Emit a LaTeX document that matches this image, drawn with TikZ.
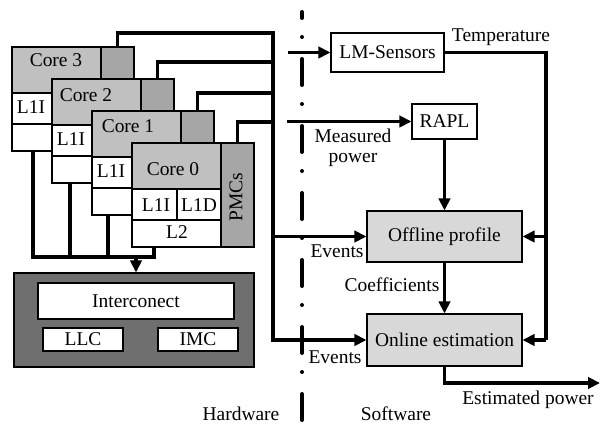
\documentclass[tikz,border=0pt]{standalone}
\usepackage{fontspec}
\setmainfont{Liberation Serif}
\usetikzlibrary{fit,arrows.meta}
\definecolor{coregray}{HTML}{C0C0C0}
\definecolor{pmcgray}{HTML}{A6A6A6}
\definecolor{uncgray}{HTML}{6F6F6F}
\definecolor{swgray}{HTML}{D8D8D8}
\begin{document}
\begin{tikzpicture}[x=0.75pt,y=-0.75pt, font=\fontsize{14.6}{15}\selectfont,
 box/.style={draw, line width=0.8pt, inner sep=0pt},
 cbox/.style={draw, line width=0.8pt, inner sep=0pt, outer sep=0pt},
 wire/.style={line width=2.4pt},
 arr/.style={-{Triangle[length=9pt,width=8.5pt]}},
 lbl/.style={inner sep=0pt, text height=0.66em, text depth=0pt},
 divider/.style={line width=3pt, line cap=round,
   dash pattern=on 19.5pt off 14.25pt on 0pt off 16.5pt, dash phase=15pt}]
\useasboundingbox (0,0) rectangle (601,428);

% hardware / software divider
\coordinate (dtop) at (302,12);
\coordinate (dbot) at (302,420);
\draw[divider] (dtop) -- (dbot);

% cores
\foreach \k/\x/\y in {3/12/47,2/52/79,1/92/111,0/132/143}{
  \node[cbox, fill=coregray, fit={(\x,\y) (\x+89,\y+46)}] (m\k) {};
  \node[cbox, fill=white, fit={(\x,\y+46) (\x+45,\y+77)}] (i\k) {};
  \node[cbox, fill=white, fit={(\x+45,\y+46) (\x+89,\y+77)}] (d\k) {};
  \node[cbox, fill=white, fit={(\x,\y+77) (\x+89,\y+104)}] (l\k) {};
  \node[cbox, fill=pmcgray, fit={(\x+89,\y) (\x+122,\y+104)}] (p\k) {};
}
\node[lbl] (c3) at (56,62) {Core 3};
\node[lbl] (c2) at (86,97) {Core 2};
\node[lbl] (c1) at (128,128) {Core 1};
\node[lbl] (c0) at (173,171) {Core 0};
\node[lbl] (li3) at (31,109) {L1I};
\node[lbl] (li2) at (71,141) {L1I};
\node[lbl] (li1) at (111,173) {L1I};
\node[lbl] (li0) at (156,207) {L1I};
\node[lbl] (ld0) at (199,207) {L1D};
\node[lbl] (l2t) at (177,234) {L2};
\node[lbl, rotate=90] (pmc) at (238,197) {PMCs};

% uncore
\node[box, fill=uncgray, minimum width=180pt, minimum height=70.5pt] (unc) at (134,320) {};
\node[box, fill=white, minimum width=147pt, minimum height=27pt] (ic) at (136,301) {Interconect};
\node[box, fill=white, minimum width=60pt, minimum height=17.25pt] (llc) at (83,339.5) {LLC};
\node[box, fill=white, minimum width=60pt, minimum height=17.25pt] (imc) at (198,339.5) {IMC};

% software blocks
\node[box, fill=white, minimum width=84.75pt, minimum height=29.25pt] (lm) at (387.5,52.5) {LM-Sensors};
\node[box, fill=white, minimum width=48.75pt, minimum height=26.25pt] (rapl) at (444.5,121.5) {RAPL};
\node[box, fill=swgray, minimum width=116.25pt, minimum height=38.25pt] (off) at (444.5,236.5) {Offline profile};
\node[box, fill=swgray, minimum width=116.25pt, minimum height=39pt] (on) at (444.5,340) {Online estimation};

% PMC bus
\coordinate (bt) at (273,33);
\coordinate (b2) at (273,62);
\coordinate (b1) at (273,93);
\coordinate (b0) at (273,122);
\coordinate (be) at (273,236.5);
\coordinate (bb) at (273,340);
\draw[wire, arr] (p3.north) |- (bt) -- (bb) -- (on.west);
\draw[wire] (p2.north) |- (b2);
\draw[wire] (p1.north) |- (b1);
\draw[wire] (p0.north) |- (b0);
\draw[wire, arr] (be) -- (off.west);

% bottom bus to uncore
\coordinate (h3) at (33,257);
\coordinate (h2) at (70,257);
\coordinate (h1) at (108,257);
\coordinate (h0) at (154,257);
\coordinate (ha) at (136,257);
\draw[wire] (h3 |- l3.south) -- (h3) -- (h0) -- (h0 |- l0.south);
\draw[wire] (h2 |- l2.south) -- (h2);
\draw[wire] (h1 |- l1.south) -- (h1);
\draw[wire, arr] (ha) -- (ha |- unc.north);

% sensors
\coordinate (ls) at (288,52.5);
\coordinate (rs) at (287,121.5);
\draw[wire, arr] (ls) -- (lm.west);
\draw[wire, arr] (rs) -- (rapl.west);

% temperature
\coordinate (tr1) at (546,52.5);
\coordinate (tr2) at (546,340);
\draw[wire] (lm.east) -- (tr1) -- (tr2);
\draw[wire, arr] (tr2) -- (on.east);
\draw[wire, arr] (tr1 |- off.east) -- (off.east);

\draw[wire, arr] (rapl.south) -- (off.north);
\draw[wire, arr] (off.south) -- (on.north);
\coordinate (ep) at (600,383);
\draw[wire, arr] (on.south) |- (ep);

% labels
\node[lbl] (temp) at (501,37) {Temperature};
\node[inner sep=0pt, align=center] (mp) at (353,148) {Measured\\power};
\node[lbl] (ev1) at (337,253) {Events};
\node[lbl] (ev2) at (335,359) {Events};
\node[lbl] (coef) at (392,287) {Coefficients};
\node[lbl] (est) at (528,400) {Estimated power};
\node[lbl] (hw) at (241,416) {Hardware};
\node[lbl] (sw) at (396,416) {Software};
\end{tikzpicture}
\end{document}
